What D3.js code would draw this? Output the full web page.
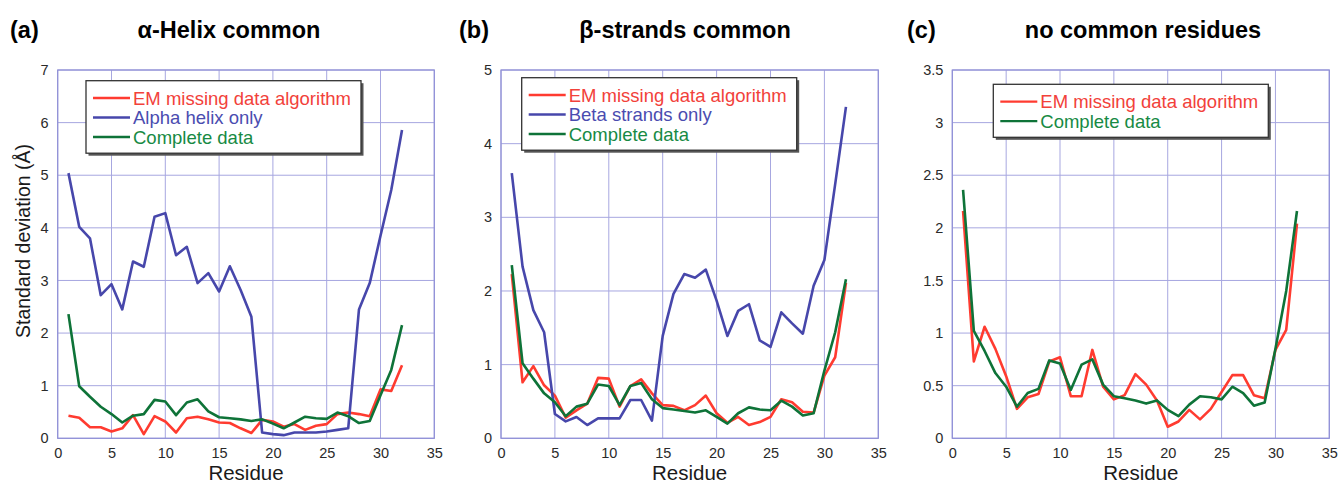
<!DOCTYPE html>
<html>
<head>
<meta charset="utf-8">
<script src="https://cdn.jsdelivr.net/npm/d3@7"></script>
<style>
    body { margin: 0; background: #fff; }
    svg { font-family: "Liberation Sans", Arial, Helvetica, sans-serif; }
</style>
</head>
<body>
<div id="chart"></div>
<script>
// residue numbers (x axis)
let residues = [1,2,3,4,5,6,7,8,9,10,11,12,13,14,15,16,17,18,19,20,21,22,23,24,25,26,27,28,29,30,31,32];

// (a) alpha-helix common
let helixEM = [0.43,0.39,0.21,0.21,0.13,0.19,0.44,0.08,0.42,0.32,0.11,0.38,0.41,0.36,0.30,0.29,0.19,0.10,0.35,0.32,0.22,0.27,0.16,0.24,0.27,0.46,0.49,0.46,0.42,0.93,0.90,1.39];
let helixOnly = [5.04,4.02,3.80,2.72,2.93,2.45,3.36,3.26,4.21,4.28,3.48,3.64,2.95,3.14,2.79,3.27,2.82,2.31,0.11,0.08,0.06,0.11,0.11,0.11,0.13,0.16,0.19,2.45,2.95,3.85,4.72,5.86];
let helixComplete = [2.36,0.99,0.79,0.60,0.46,0.30,0.43,0.46,0.73,0.70,0.44,0.68,0.74,0.51,0.40,0.38,0.36,0.33,0.36,0.28,0.19,0.30,0.41,0.38,0.37,0.49,0.42,0.29,0.33,0.82,1.30,2.15];

// (b) beta-strands common
let strandEM = [2.23,0.76,0.98,0.72,0.58,0.28,0.38,0.47,0.82,0.81,0.43,0.71,0.80,0.61,0.45,0.44,0.38,0.45,0.58,0.34,0.21,0.29,0.18,0.22,0.29,0.53,0.49,0.36,0.35,0.85,1.10,2.11];
let strandOnly = [3.60,2.33,1.74,1.44,0.33,0.23,0.29,0.18,0.27,0.27,0.27,0.52,0.52,0.24,1.39,1.96,2.23,2.18,2.29,1.87,1.39,1.73,1.82,1.33,1.24,1.71,1.56,1.42,2.07,2.42,3.45,4.50];
let strandComplete = [2.35,1.02,0.81,0.61,0.49,0.30,0.43,0.47,0.73,0.71,0.45,0.71,0.75,0.53,0.41,0.39,0.37,0.35,0.38,0.29,0.20,0.34,0.42,0.39,0.38,0.51,0.43,0.31,0.34,0.92,1.44,2.16];

// (c) no common residues
let noneEM = [2.16,0.73,1.06,0.85,0.59,0.28,0.39,0.42,0.73,0.77,0.40,0.40,0.84,0.49,0.37,0.41,0.61,0.51,0.36,0.11,0.16,0.27,0.18,0.28,0.44,0.60,0.60,0.41,0.38,0.84,1.03,2.04];
let noneComplete = [2.36,1.02,0.83,0.62,0.49,0.30,0.43,0.47,0.74,0.71,0.46,0.70,0.75,0.51,0.40,0.38,0.36,0.33,0.36,0.27,0.21,0.32,0.40,0.39,0.37,0.49,0.43,0.31,0.34,0.85,1.40,2.16];

// tick labels
let xTicks = [0,5,10,15,20,25,30,35];
let yTicksA = [0,1,2,3,4,5,6,7];
let yTicksB = [0,1,2,3,4,5];
let yTicksC = [0,0.5,1,1.5,2,2.5,3,3.5];

let colors = {em: "#ff3b30", only: "#4747ab", complete: "#0e7338"};
let textColors = {em: "#f2413a", only: "#4a4cb0", complete: "#178a44"};

class ResiduePanel {

    constructor(svg, cfg) {
        this.svg = svg;
        this.cfg = cfg;
        this.initVis();
    }

    initVis() {
        let vis = this;
        let cfg = vis.cfg;

        vis.x = d3.scaleLinear().domain([0, 35]).range([cfg.left, cfg.right]);
        vis.y = d3.scaleLinear().domain([0, cfg.yMax]).range([438.3, 70]);

        vis.g = vis.svg.append("g");

        // grid
        vis.g.append("g")
            .selectAll("line.vgrid")
            .data(xTicks)
            .enter()
            .append("line")
            .attr("x1", d => vis.x(d)).attr("x2", d => vis.x(d))
            .attr("y1", vis.y(0)).attr("y2", vis.y(cfg.yMax))
            .attr("stroke", "#a7a7e0")
            .attr("stroke-width", 1);

        vis.g.append("g")
            .selectAll("line.hgrid")
            .data(cfg.yTicks)
            .enter()
            .append("line")
            .attr("x1", vis.x(0)).attr("x2", vis.x(35))
            .attr("y1", d => vis.y(d)).attr("y2", d => vis.y(d))
            .attr("stroke", "#a7a7e0")
            .attr("stroke-width", 1);

        // frame
        vis.g.append("rect")
            .attr("x", vis.x(0)).attr("y", vis.y(cfg.yMax))
            .attr("width", vis.x(35) - vis.x(0))
            .attr("height", vis.y(0) - vis.y(cfg.yMax))
            .attr("fill", "none")
            .attr("stroke", "#9090d6")
            .attr("stroke-width", 1.2);

        // axes (labels only, the grid is the tick marks)
        let xAxis = d3.axisBottom(vis.x).tickValues(xTicks).tickSize(0).tickPadding(9);
        vis.g.append("g")
            .attr("transform", `translate(0, ${vis.y(0)})`)
            .call(xAxis)
            .call(g => g.select(".domain").remove())
            .selectAll("text")
            .attr("font-size", 14.5)
            .attr("font-family", "Liberation Sans, Arial, sans-serif")
            .attr("fill", "#2a2a2a");

        let yAxis = d3.axisLeft(vis.y).tickValues(cfg.yTicks).tickSize(0).tickPadding(9)
            .tickFormat(d3.format("~g"));
        vis.g.append("g")
            .attr("transform", `translate(${vis.x(0)}, 0)`)
            .call(yAxis)
            .call(g => g.select(".domain").remove())
            .selectAll("text")
            .attr("font-size", 14.5)
            .attr("font-family", "Liberation Sans, Arial, sans-serif")
            .attr("fill", "#2a2a2a");

        // lines
        let line = d3.line()
            .x((d, i) => vis.x(residues[i]))
            .y(d => vis.y(d));

        cfg.series.forEach(s => {
            vis.g.append("path")
                .datum(s.values)
                .attr("d", line)
                .attr("fill", "none")
                .attr("stroke", colors[s.key])
                .attr("stroke-width", 2.6)
                .attr("stroke-linejoin", "round");
        });

        // titles
        vis.svg.append("text")
            .attr("x", cfg.tagX).attr("y", 38)
            .attr("font-size", 23.5).attr("font-weight", "bold")
            .text(cfg.tag);

        vis.svg.append("text")
            .attr("x", cfg.titleX).attr("y", 38)
            .attr("text-anchor", "middle")
            .attr("font-size", 23.5).attr("font-weight", "bold")
            .text(cfg.title);

        vis.svg.append("text")
            .attr("x", (cfg.left + cfg.right) / 2).attr("y", 480)
            .attr("text-anchor", "middle")
            .attr("font-size", 20.5)
            .attr("fill", "#1a1a1a")
            .text("Residue");

        vis.drawLegend();
    }

    drawLegend() {
        let vis = this;
        let cfg = vis.cfg;
        let lx = cfg.left + cfg.legendDx;
        let ly = vis.y(cfg.yMax) + cfg.legendDy;
        let lw = 275;
        let lh = 14 + cfg.series.length * 19.5;

        let legend = vis.svg.append("g")
            .attr("transform", `translate(${lx}, ${ly})`);

        legend.append("rect")
            .attr("x", 2.5).attr("y", 2.5)
            .attr("width", lw).attr("height", lh)
            .attr("fill", "#555");

        legend.append("rect")
            .attr("width", lw).attr("height", lh)
            .attr("fill", "#fff")
            .attr("stroke", "#333")
            .attr("stroke-width", 1.3);

        let rows = legend.selectAll("g.row")
            .data(cfg.series)
            .enter()
            .append("g")
            .attr("transform", (d, i) => `translate(0, ${17.3 + i * 19.5})`);

        rows.append("line")
            .attr("x1", 7).attr("x2", 44)
            .attr("stroke", d => colors[d.key])
            .attr("stroke-width", 2.4);

        rows.append("text")
            .attr("x", 47)
            .attr("dy", "0.36em")
            .attr("font-size", 18.5)
            .attr("fill", d => textColors[d.key])
            .text(d => d.label);
    }
}

let svg = d3.select("#chart").append("svg")
    .attr("width", 1339)
    .attr("height", 485);

new ResiduePanel(svg, {
    left: 57.7, right: 434.3, yMax: 7, yTicks: yTicksA,
    tag: "(a)", tagX: 10, title: "α-Helix common", titleX: 229,
    legendDx: 28.3, legendDy: 10.7,
    series: [
        {key: "em", label: "EM missing data algorithm", values: helixEM},
        {key: "only", label: "Alpha helix only", values: helixOnly},
        {key: "complete", label: "Complete data", values: helixComplete}
    ]
});

new ResiduePanel(svg, {
    left: 501, right: 878.3, yMax: 5, yTicks: yTicksB,
    tag: "(b)", tagX: 459, title: "β-strands common", titleX: 685,
    legendDx: 20.7, legendDy: 7.7,
    series: [
        {key: "em", label: "EM missing data algorithm", values: strandEM},
        {key: "only", label: "Beta strands only", values: strandOnly},
        {key: "complete", label: "Complete data", values: strandComplete}
    ]
});

new ResiduePanel(svg, {
    left: 952.3, right: 1329.3, yMax: 3.5, yTicks: yTicksC,
    tag: "(c)", tagX: 907, title: "no common residues", titleX: 1143,
    legendDx: 41, legendDy: 14.3,
    series: [
        {key: "em", label: "EM missing data algorithm", values: noneEM},
        {key: "complete", label: "Complete data", values: noneComplete}
    ]
});

// y axis label, first panel only
svg.append("text")
    .attr("transform", "translate(30, 241) rotate(-90)")
    .attr("text-anchor", "middle")
    .attr("font-size", 19.5)
    .attr("fill", "#1a1a1a")
    .text("Standard deviation (Å)");
</script>
</body>
</html>
